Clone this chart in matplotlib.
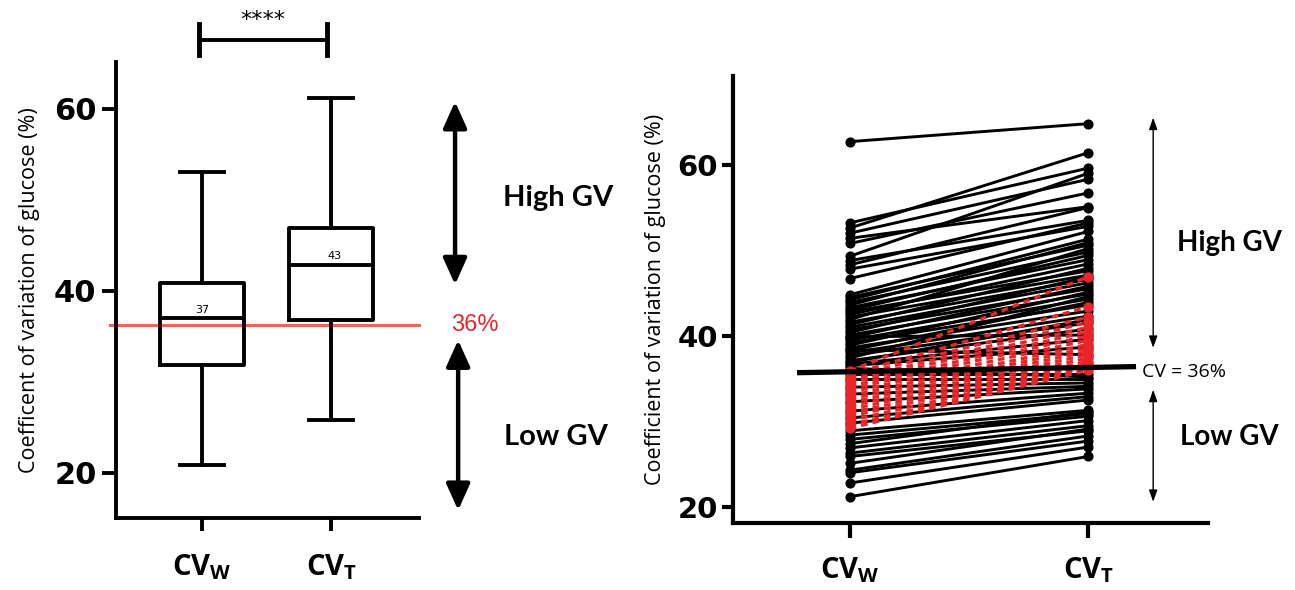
import numpy as np
import matplotlib
matplotlib.use("Agg")
import matplotlib.pyplot as plt

plt.rcParams['font.family'] = ['Open Sans', 'DejaVu Sans']
plt.rcParams['mathtext.fontset'] = 'custom'
plt.rcParams['mathtext.rm'] = 'Open Sans'
plt.rcParams['mathtext.bf'] = 'Open Sans:bold'
plt.rcParams['mathtext.it'] = 'Open Sans:italic'

# ---- data ----
groups = [r'$\mathbf{CV_W}$', r'$\mathbf{CV_T}$']
box_lo = [20.9, 25.8]
box_q1 = [31.9, 36.8]
box_med = [37.0, 42.9]
box_q3 = [40.9, 46.9]
box_hi = [53.1, 61.2]
cutoff = 36.3

# paired patients, black = no change of class, red = crossed 36% threshold
w_black = [62.7, 53.2, 52.6, 52.0, 51.4, 50.8, 49.3, 48.8, 48.3, 47.8, 46.7,
           44.8, 44.5, 44.2, 43.9, 43.6, 43.3, 43.0, 42.8, 42.5, 42.2, 41.9,
           41.6, 41.3, 41.0, 40.7, 40.4, 40.1, 39.8, 39.5, 39.2, 38.9, 38.6,
           38.3, 38.0, 37.7, 37.4, 37.1, 36.9, 36.7, 36.5, 38.4, 39.9,
           36.2, 35.6, 34.9, 34.0, 33.2, 32.3, 31.2, 30.4, 29.8,
           28.9, 28.4, 27.9, 27.4, 26.9, 26.3, 25.9, 25.1, 24.3, 24.0, 22.8, 21.2]
t_black = [64.8, 59.6, 61.4, 58.3, 55.1, 56.7, 59.0, 53.5, 55.0, 52.8, 53.2,
           52.2, 50.6, 51.3, 49.8, 50.9, 48.9, 49.4, 47.6, 48.4, 47.1, 50.2,
           46.6, 47.9, 46.2, 45.5, 46.9, 44.9, 45.8, 44.3, 43.6, 45.1, 42.9,
           43.9, 42.3, 41.5, 44.6, 40.8, 41.9, 39.6, 38.7, 37.8, 40.1,
           35.2, 35.6, 34.9, 34.5, 34.1, 33.8, 33.3, 32.9, 32.5,
           31.3, 30.9, 30.6, 31.1, 30.1, 29.5, 28.9, 29.1, 28.3, 27.7, 27.0, 25.9]
w_red = [35.9, 35.5, 35.2, 34.8, 34.5, 34.1, 33.8, 33.4, 33.0,
         32.6, 32.2, 31.8, 31.4, 31.0, 30.6, 30.1, 29.6, 29.2]
t_red = [46.9, 43.4, 42.2, 41.6, 41.0, 40.5, 40.0, 39.5, 39.0,
         38.6, 38.2, 37.8, 37.4, 37.0, 36.7, 36.4, 36.2, 36.0]
line36 = [35.7, 36.4]

RED = '#e8262a'

fig = plt.figure(figsize=(12.95, 5.9), dpi=100)

# ---------------- left: box plot ----------------
ax = fig.add_axes([0.0896, 0.122, 0.234, 0.773])
stats = []
for i in range(2):
    stats.append(dict(whislo=box_lo[i], q1=box_q1[i], med=box_med[i],
                      q3=box_q3[i], whishi=box_hi[i], fliers=[]))
lw = 2.8
ax.bxp(stats, positions=[0, 1], widths=0.65, capwidths=0.34, showfliers=False,
       boxprops=dict(lw=lw, color='k'), medianprops=dict(lw=lw, color='k'),
       whiskerprops=dict(lw=lw, color='k'), capprops=dict(lw=lw, color='k'))
for i in range(2):
    ax.text(i + 0.03 * i, box_med[i] + 0.4, '%d' % round(box_med[i]),
            ha='center', va='bottom', fontsize=8, family='DejaVu Sans')

ax.plot([-0.71, 1.682], [cutoff, cutoff], color='#f0674f', lw=2.2,
        clip_on=False, zorder=1)
ax.text(1.93, cutoff, '36%', color=RED, fontsize=17, family='Liberation Sans',
        ha='left', va='center')

ax.set_xlim(-0.667, 1.682)
ax.set_ylim(15.05, 65.16)
ax.set_yticks([20, 40, 60])
ax.set_xticks([0, 1], labels=groups)
for s in ['top', 'right']:
    ax.spines[s].set_visible(False)
for s in ['left', 'bottom']:
    ax.spines[s].set_linewidth(2.8)
ax.tick_params(axis='y', length=10, width=2.8, pad=4)
ax.tick_params(axis='x', length=9, width=2.8, pad=16, labelsize=21)
for lab in ax.get_yticklabels():
    lab.set_fontfamily('DejaVu Sans')
    lab.set_fontweight('bold')
    lab.set_fontsize(22)
ax.set_ylabel('Coefficent of variation of glucose (%)', fontsize=15.5, labelpad=10)

# significance bracket
ax.plot([-0.023, 0.969], [67.6, 67.6], color='k', lw=2.8, clip_on=False)
for xb in [-0.023, 0.969]:
    ax.plot([xb, xb], [65.9, 69.3], color='k', lw=3.5, clip_on=False)
ax.text(0.473, 68.7, '****', ha='center', va='bottom', fontsize=16,
        family='DejaVu Sans')

# high / low arrows
ap = dict(arrowstyle='<|-|>,head_length=0.8,head_width=0.36', lw=3.2, color='k',
          mutation_scale=20, shrinkA=0, shrinkB=0)
ax.annotate('', xy=(1.961, 60.8), xytext=(1.961, 40.7), arrowprops=ap,
            annotation_clip=False)
ax.annotate('', xy=(1.985, 15.9), xytext=(1.985, 34.6), arrowprops=ap,
            annotation_clip=False)
ax.text(2.76, 50.2, 'High GV', fontsize=21, fontweight='bold', family='Lato',
        ha='center', va='center')
ax.text(2.745, 23.9, 'Low GV', fontsize=21, fontweight='bold', family='Lato',
        ha='center', va='center')

# ---------------- right: paired lines ----------------
bx = fig.add_axes([0.566, 0.1136, 0.367, 0.758])
for w, t in zip(w_black, t_black):
    bx.plot([0, 1], [w, t], color='k', lw=2.1, marker='o', ms=6.3, zorder=2)
for w, t in zip(w_red, t_red):
    bx.plot([0, 1], [w, t], color=RED, lw=2.4, ls=(0, (2, 1.5)), marker='o',
            ms=6.5, zorder=3)
bx.plot([-0.21, 1.19], line36, color='k', lw=3.8, clip_on=False, zorder=4)
bx.text(1.227, 35.8, 'CV = 36%', fontsize=14, ha='left', va='center')

bx.set_xlim(-0.49, 1.504)
bx.set_ylim(18.13, 70.4)
bx.set_yticks([20, 40, 60])
bx.set_xticks([0, 1], labels=groups)
for s in ['top', 'right']:
    bx.spines[s].set_visible(False)
for s in ['left', 'bottom']:
    bx.spines[s].set_linewidth(3)
bx.tick_params(axis='y', length=8, width=3, pad=3)
bx.tick_params(axis='x', length=11, width=3, pad=12, labelsize=21)
for lab in bx.get_yticklabels():
    lab.set_fontfamily('DejaVu Sans')
    lab.set_fontweight('bold')
    lab.set_fontsize(21)
bx.set_ylabel('Coefficient of variation of glucose (%)', fontsize=15.5, labelpad=8)

ap2 = dict(arrowstyle='<|-|>,head_length=0.7,head_width=0.25', lw=1, color='k',
           mutation_scale=10, shrinkA=0, shrinkB=0)
bx.annotate('', xy=(1.273, 65.5), xytext=(1.273, 38.6), arrowprops=ap2,
            annotation_clip=False)
bx.annotate('', xy=(1.273, 20.6), xytext=(1.273, 33.7), arrowprops=ap2,
            annotation_clip=False)
bx.text(1.592, 50.9, 'High GV', fontsize=20, fontweight='bold', family='Lato',
        ha='center', va='center')
bx.text(1.592, 28.2, 'Low GV', fontsize=20, fontweight='bold', family='Lato',
        ha='center', va='center')

fig.savefig('out.png', dpi=100)
